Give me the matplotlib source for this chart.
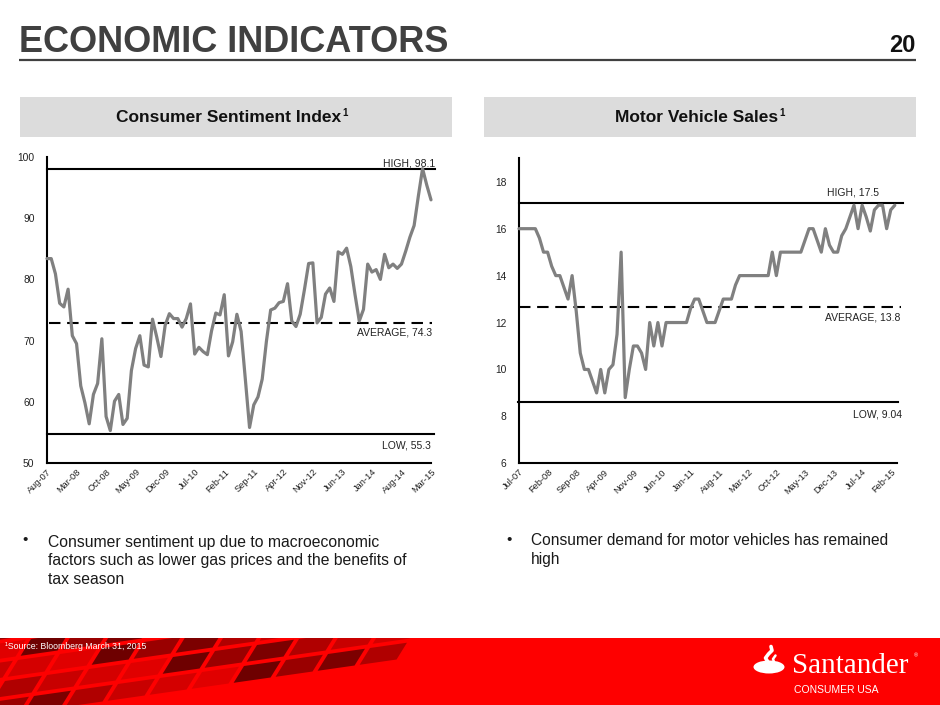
import numpy as np
import matplotlib.pyplot as plt
from matplotlib.patches import Rectangle, Polygon, Ellipse

plt.rcParams['font.family'] = ['Liberation Sans', 'DejaVu Sans']

# ---- data ----
# consumer sentiment, monthly Aug-07 .. Mar-15
sentiment = [83.4, 83.4, 80.9, 76.1, 75.5,
             78.4, 70.8, 69.5, 62.6, 59.8, 56.4, 61.2, 63.0, 70.3, 57.6, 55.3, 60.1,
             61.2, 56.3, 57.3, 65.1, 68.7, 70.8, 66.0, 65.7, 73.5, 70.6, 67.4, 72.5,
             74.4, 73.6, 73.6, 72.2, 73.6, 76.0, 67.8, 68.9, 68.2, 67.7, 71.6, 74.5,
             74.2, 77.5, 67.5, 69.8, 74.3, 71.5, 63.7, 55.8, 59.5, 60.8, 63.7, 69.9,
             75.0, 75.3, 76.2, 76.4, 79.3, 73.2, 72.3, 74.3, 78.3, 82.6, 82.7, 72.9,
             73.8, 77.6, 78.6, 76.4, 84.5, 84.1, 85.1, 82.1, 77.5, 73.2, 75.1, 82.5,
             81.2, 81.6, 80.0, 84.1, 81.9, 82.5, 81.8, 82.5, 84.6, 86.9, 88.8, 93.6,
             98.1, 95.4, 93.0]
sent_ticks = ['Aug-07', 'Mar-08', 'Oct-08', 'May-09', 'Dec-09', 'Jul-10', 'Feb-11',
              'Sep-11', 'Apr-12', 'Nov-12', 'Jun-13', 'Jan-14', 'Aug-14', 'Mar-15']
sent_levels = [98.0, 72.8, 54.7]
sent_level_text = ['HIGH, 98.1', 'AVERAGE, 74.3', 'LOW, 55.3']

# motor vehicle sales (millions), monthly Jul-07 .. Mar-15
sales = [16, 16, 16, 16, 16, 15.6,
         15, 15, 14.4, 14, 14, 13.5, 13, 14, 12.5, 10.7, 10, 10,
         9.5, 9, 10, 9, 10, 10.2, 11.5, 15, 8.8, 10, 11, 11,
         10.7, 10, 12, 11, 12, 11, 12, 12, 12, 12, 12, 12,
         12.6, 13, 13, 12.5, 12, 12, 12, 12.5, 13, 13, 13, 13.6,
         14, 14, 14, 14, 14, 14, 14, 14, 15, 14, 15, 15,
         15, 15, 15, 15, 15.5, 16, 16, 15.5, 15, 16, 15.3, 15,
         15, 15.7, 16, 16.5, 17, 16, 17, 16.5, 15.9, 16.8, 17, 17,
         16, 16.8, 17]
sales_ticks = ['Jul-07', 'Feb-08', 'Sep-08', 'Apr-09', 'Nov-09', 'Jun-10', 'Jan-11',
               'Aug-11', 'Mar-12', 'Oct-12', 'May-13', 'Dec-13', 'Jul-14', 'Feb-15']
sales_levels = [17.1, 12.65, 8.6]
sales_level_text = ['HIGH, 17.5', 'AVERAGE, 13.8', 'LOW, 9.04']

W, H = 940, 705
fig = plt.figure(figsize=(9.4, 7.05), dpi=100)

# page layer in pixel coords
bg = fig.add_axes([0, 0, 1, 1])
bg.set_xlim(0, W)
bg.set_ylim(H, 0)
bg.axis('off')
bg.set_zorder(0)

bg.text(19, 52, 'ECONOMIC INDICATORS', fontsize=26, fontweight='bold',
        color='#404040', ha='left', va='baseline')
bg.text(916, 52, '20', fontsize=17, fontweight='bold', color='#111111',
        ha='right', va='baseline')
bg.plot([19, 916], [60, 60], color='#404040', lw=1.6, solid_capstyle='butt')

for x0, title, cx in [(20, 'Consumer Sentiment Index', 229), (484, 'Motor Vehicle Sales', 697)]:
    bg.add_patch(Rectangle((x0, 97), 432, 40, facecolor='#dcdcdc', edgecolor='none'))
    t = bg.text(cx, 122, title, fontsize=12.5, fontweight='bold', color='#111111',
                ha='center', va='baseline')
    bg.annotate('1', xy=(1, 1), xycoords=t, xytext=(0.3, 1.2), textcoords='offset points',
                fontsize=7, fontweight='bold', color='#111111', ha='left', va='top')

# bullets
bg.text(25, 540, '\u2022', fontsize=11, color='#1a1a1a', ha='center', va='center')
bg.text(48, 561, 'Consumer sentiment up due to macroeconomic\n'
        'factors such as lower gas prices and the benefits of\ntax season',
        fontsize=11.3, color='#1a1a1a', ha='left', va='center', linespacing=1.3)
bg.text(509, 540, '\u2022', fontsize=11, color='#1a1a1a', ha='center', va='center')
bg.text(531, 550, 'Consumer demand for motor vehicles has remained\nhigh',
        fontsize=11.2, color='#1a1a1a', ha='left', va='center', linespacing=1.3)

# footer band with a tiled pattern on the left
band = Rectangle((0, 638), W, 67, facecolor='#fe0000', edgecolor='none')
bg.add_patch(band)
tile_cols = ['#6e0000', '#c80000', '#9a0000', '#d40000', '#7c0000', '#e00000', '#b00000']
u = np.array([42.0, -6.0])
v = np.array([-13.0, 21.0])
origin = np.array([-40.0, 630.0])
for r in range(5):
    for c in range(16):
        p0 = origin + c * u + r * v
        if p0[0] > 500 - 25 * r:
            continue
        col = tile_cols[(3 * r + 2 * c) % len(tile_cols)]
        pts = [p0, p0 + 0.88 * u, p0 + 0.88 * u + 0.8 * v, p0 + 0.8 * v]
        tile = Polygon(pts, closed=True, facecolor=col, edgecolor='none', zorder=1)
        bg.add_patch(tile)
        tile.set_clip_path(band)
bg.text(5, 649, '\u00b9Source: Bloomberg March 31, 2015', fontsize=6.3, color='white',
        ha='left', va='baseline', zorder=3)

# logo
bg.add_patch(Ellipse((769, 667), 31, 13, facecolor='white', edgecolor='none', zorder=3))
bg.plot([768, 765.5, 768.5, 772, 771], [662, 658, 654, 650.5, 646.5], color='white',
        lw=2.6, solid_capstyle='round', zorder=3)
bg.plot([774, 773, 775.5], [662, 659, 655.5], color='white', lw=1.8,
        solid_capstyle='round', zorder=3)
bg.text(792, 673, 'Santander', family=['Liberation Serif', 'DejaVu Serif'], fontsize=21,
        color='white', ha='left', va='baseline', zorder=3)
bg.text(914, 657, '\u00ae', fontsize=4, color='white', ha='left', va='baseline', zorder=3)
bg.text(794, 693, 'CONSUMER USA', fontsize=7.5, color='white', ha='left',
        va='baseline', zorder=3)


def chart(ax, values, tick_labels, ylim, yticks, xmax, levels, level_text,
          spans, label_pos):
    x = np.arange(len(values))
    ax.set_facecolor('none')
    ax.plot(x, values, color='#808080', lw=2.3, solid_joinstyle='round',
            solid_capstyle='round', zorder=3, clip_on=False)
    for lvl, (a, b), style in zip(levels, spans, ['-', (0, (5.5, 3.2)), '-']):
        ax.plot([a, b], [lvl, lvl], color='black', lw=1.5, ls=style,
                clip_on=False, zorder=2)
    for lvl, txt, (xa, dy, ha) in zip(levels, level_text, label_pos):
        ax.annotate(txt, xy=(xa, lvl), xytext=(0, dy), textcoords='offset points',
                    ha=ha, va='center', fontsize=7.5, color='#222222',
                    annotation_clip=False)
    ax.set_xlim(0, xmax)
    ax.set_ylim(*ylim)
    ax.set_yticks(yticks)
    ax.set_xticks(np.arange(0, 7 * len(tick_labels), 7))
    ax.set_xticklabels(tick_labels, rotation=45, ha='right', rotation_mode='anchor',
                       fontsize=6.7, color='#222222')
    ax.tick_params(axis='y', length=0, pad=9, labelsize=7.4, labelcolor='#222222')
    ax.tick_params(axis='x', length=0, pad=3)
    for s in ['top', 'right']:
        ax.spines[s].set_visible(False)
    for s in ['left', 'bottom']:
        ax.spines[s].set_linewidth(1.5)
        ax.spines[s].set_color('black')


axL = fig.add_axes([47 / W, 1 - 463 / H, 384 / W, 306 / H])
axL.set_zorder(1)
chart(axL, sentiment, sent_ticks, (50, 100), range(50, 101, 10), 91,
      sent_levels, sent_level_text,
      spans=[(0, 91.9), (0.5, 91.2), (0, 91.7)],
      label_pos=[(91.9, 4.3, 'right'), (91.2, -6.5, 'right'), (91.0, -8.0, 'right')])

axR = fig.add_axes([519 / W, 1 - 463.3 / H, 377.7 / W, 305 / H])
axR.set_zorder(1)
chart(axR, sales, sales_ticks, (6, 19), range(6, 19, 2), 92.46,
      sales_levels, sales_level_text,
      spans=[(0, 94.1), (0, 93.5), (-0.3, 92.8)],
      label_pos=[(81.8, 7.7, 'center'), (93.4, -7.2, 'right'), (93.75, -8.6, 'right')])

fig.savefig('out.png', dpi=100)
